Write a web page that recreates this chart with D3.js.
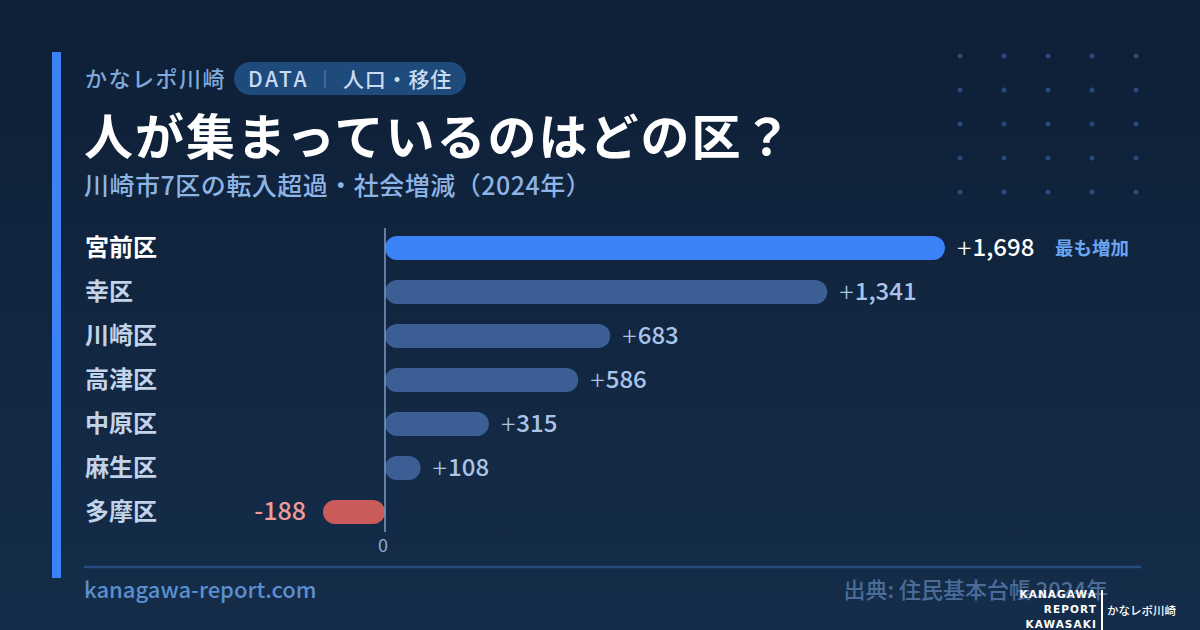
<!DOCTYPE html>
<html><head><meta charset="utf-8">
<script src="https://cdn.jsdelivr.net/npm/d3@7"></script>
<style>html,body{margin:0;padding:0;background:#0f1f35;}svg{display:block;}</style>
</head><body>
<svg id="c" width="1200" height="630"></svg>
<script>
const categories = ["宮前区","幸区","川崎区","高津区","中原区","麻生区","多摩区"];
const values = [1698, 1341, 683, 586, 315, 108, -188];
const valueLabels = ["+1,698","+1,341","+683","+586","+315","+108","-188"];
const axisTicks = [0];

const FONT = "'Noto Sans CJK JP','Noto Sans',sans-serif";
const svg = d3.select("#c");
const defs = svg.append("defs");
const g = defs.append("linearGradient").attr("id","bg").attr("x1",0).attr("y1",0).attr("x2",0).attr("y2",1);
g.append("stop").attr("offset","0%").attr("stop-color","#0e1f36");
g.append("stop").attr("offset","100%").attr("stop-color","#152d4a");
svg.append("rect").attr("width",1200).attr("height",630).attr("fill","url(#bg)");

// dot grid
d3.range(5).forEach(i=>d3.range(5).forEach(j=>{
  svg.append("circle").attr("cx",960+i*44).attr("cy",56+j*34).attr("r",2.5).attr("fill","#28497a");
}));

// accent bar
svg.append("rect").attr("x",52).attr("y",52).attr("width",9).attr("height",526).attr("fill","#3b82f6");

// header
svg.append("text").attr("x",85).attr("y",87).attr("font-family",FONT).attr("font-size",22).attr("font-weight",500)
  .attr("letter-spacing",1.5).attr("fill","#7ea9dc").text("かなレポ川崎");
svg.append("rect").attr("x",234).attr("y",62).attr("width",232).attr("height",33).attr("rx",16.5).attr("fill","#1f4b7c");
svg.append("text").attr("x",248).attr("y",87).attr("font-family",FONT).attr("font-size",21).attr("font-weight",500)
  .attr("letter-spacing",2.5).attr("fill","#c9dcf2").text("DATA");
svg.append("line").attr("x1",325).attr("x2",325).attr("y1",70).attr("y2",88).attr("stroke","#5c7fa8").attr("stroke-width",1.2);
svg.append("text").attr("x",343).attr("y",87).attr("font-family",FONT).attr("font-size",21).attr("font-weight",500)
  .attr("letter-spacing",0.8).attr("fill","#c9dcf2").text("人口・移住");

svg.append("text").attr("x",84).attr("y",155).attr("font-family",FONT).attr("font-size",49).attr("font-weight",700)
  .attr("letter-spacing",2).attr("fill","#ffffff").text("人が集まっているのはどの区？");
svg.append("text").attr("x",84).attr("y",195).attr("font-family",FONT).attr("font-size",25).attr("font-weight",500)
  .attr("letter-spacing",0.5).attr("fill","#8db4e4").text("川崎市7区の転入超過・社会増減（2024年）");

// scales
const x = d3.scaleLinear().domain([0,1698]).range([385,945]);
const y = d3.scaleBand().domain(categories).range([226,534]).paddingInner(0.44).paddingOuter(0.22);
const bh = 24;

const rows = svg.append("g");
categories.forEach((c,i)=>{
  const cy = y(c)+y.bandwidth()/2;
  const v = values[i];
  const x0 = Math.min(x(0),x(v)), w = Math.abs(x(v)-x(0));
  const color = i===0 ? "#3b82f6" : (v<0 ? "#c95b5b" : "#3b5f95");
  rows.append("rect").attr("x",x0).attr("y",cy-bh/2).attr("width",w).attr("height",bh)
    .attr("rx",bh/2).attr("fill",color);
  rows.append("text").attr("x",85).attr("y",cy+8).attr("font-family",FONT).attr("font-size",24)
    .attr("font-weight",700).attr("fill",i===0?"#ffffff":"#c2d3ea").text(c);
  const lbl = valueLabels[i];
  if (v>=0) {
    const t = rows.append("text").attr("x",x(v)+12).attr("y",cy+8).attr("font-family",FONT).attr("font-size",24)
      .attr("font-weight",500).attr("fill",i===0?"#ffffff":"#a9c4e8");
    t.append("tspan").attr("font-weight",300).attr("font-size",27).attr("dy",2).text(lbl.slice(0,1));
    t.append("tspan").attr("dx",1).attr("dy",-2).text(lbl.slice(1));
  } else {
    rows.append("text").attr("x",x(v)-17).attr("y",cy+8).attr("text-anchor","end").attr("font-family",FONT)
      .attr("font-size",25).attr("font-weight",500).attr("fill","#f09a9a").text(lbl);
  }
  if (i===0) {
    rows.append("text").attr("x",1055).attr("y",cy+7).attr("font-family",FONT).attr("font-size",18.5)
      .attr("font-weight",700).attr("fill","#6aa5f2").text("最も増加");
  }
});

// zero axis
svg.append("line").attr("x1",x(0)).attr("x2",x(0)).attr("y1",228).attr("y2",532)
  .attr("stroke","#7e9dc6").attr("stroke-width",1.5);
axisTicks.forEach(t=>{
  svg.append("text").attr("x",x(t)-2).attr("y",552).attr("text-anchor","middle").attr("font-family",FONT)
    .attr("font-size",18).attr("fill","#8eacd2").text(String(t));
});

// footer
svg.append("line").attr("x1",84).attr("x2",1141).attr("y1",567).attr("y2",567).attr("stroke","#274d80").attr("stroke-width",2.5);
svg.append("text").attr("x",84).attr("y",598).attr("font-family",FONT).attr("font-size",22).attr("font-weight",500)
  .attr("fill","#5a8fd0").text("kanagawa-report.com");
svg.append("text").attr("x",1108).attr("y",598).attr("text-anchor","end").attr("font-family",FONT).attr("font-size",22)
  .attr("font-weight",500).attr("fill","#4b6c98").text("出典: 住民基本台帳 2024年");

// logo
const lg = svg.append("g");
["KANAGAWA","REPORT","KAWASAKI"].forEach((t,i)=>{
  lg.append("text").attr("x",1097).attr("y",598+i*15).attr("text-anchor","end").attr("font-family","'DejaVu Sans',sans-serif")
    .attr("font-size",10.5).attr("font-weight",700).attr("letter-spacing",1.1).attr("fill","#ffffff").text(t);
});
lg.append("line").attr("x1",1102).attr("x2",1102).attr("y1",590).attr("y2",630).attr("stroke","#ffffff").attr("stroke-width",2);
lg.append("text").attr("x",1107).attr("y",615).attr("font-family",FONT).attr("font-size",11.5).attr("font-weight",500)
  .attr("fill","#ffffff").text("かなレポ川崎");
</script>
</body></html>
